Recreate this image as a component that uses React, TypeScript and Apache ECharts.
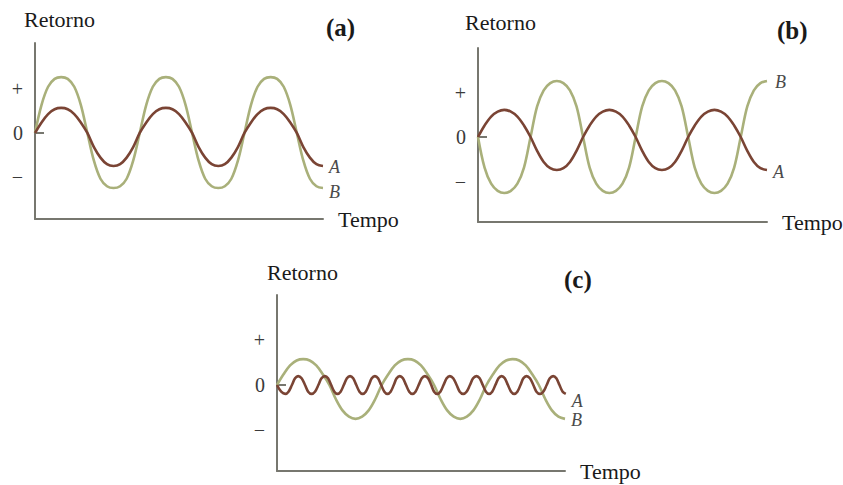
import React, { useEffect, useRef } from "react";
import * as echarts from "echarts";

// Time samples, a sixteenth of a slow cycle apart
const tempo = [
  0, 0.25, 0.5, 0.75, 1, 1.25, 1.5, 1.75, 2, 2.25, 2.5, 2.75, 3, 3.25, 3.5, 3.75,
  4, 4.25, 4.5, 4.75, 5, 5.25, 5.5, 5.75, 6, 6.25, 6.5, 6.75, 7, 7.25, 7.5, 7.75,
  8, 8.25, 8.5, 8.75, 9, 9.25, 9.5, 9.75, 10, 10.25, 10.5, 10.75, 11,
];

// Panel (a): A and B move together, B with larger swings
const retornoA_a = [
  0, 0.24, 0.43, 0.54, 0.57, 0.54, 0.43, 0.24, 0, -0.32, -0.56, -0.71, -0.75, -0.71, -0.56, -0.32,
  0, 0.24, 0.43, 0.54, 0.57, 0.54, 0.43, 0.24, 0, -0.32, -0.56, -0.71, -0.75, -0.71, -0.56, -0.32,
  0, 0.24, 0.43, 0.54, 0.57, 0.54, 0.43, 0.24, 0, -0.32, -0.56, -0.71, -0.75,
];
const retornoB_a = [
  0, 0.64, 1.05, 1.23, 1.27, 1.23, 1.05, 0.64, 0, -0.63, -1.04, -1.21, -1.25, -1.21, -1.04, -0.63,
  0, 0.64, 1.05, 1.23, 1.27, 1.23, 1.05, 0.64, 0, -0.63, -1.04, -1.21, -1.25, -1.21, -1.04, -0.63,
  0, 0.64, 1.05, 1.23, 1.27, 1.23, 1.05, 0.64, 0, -0.63, -1.04, -1.21, -1.25,
];

// Panel (b): A and B move in opposite directions
const retornoA_b = [
  0, 0.26, 0.46, 0.57, 0.61, 0.57, 0.46, 0.26, 0, -0.31, -0.56, -0.7, -0.74, -0.7, -0.56, -0.31,
  0, 0.26, 0.46, 0.57, 0.61, 0.57, 0.46, 0.26, 0, -0.31, -0.56, -0.7, -0.74, -0.7, -0.56, -0.31,
  0, 0.26, 0.46, 0.57, 0.61, 0.57, 0.46, 0.26, 0, -0.31, -0.56, -0.7, -0.74,
];
const retornoB_b = [
  0, -0.69, -1.05, -1.21, -1.26, -1.21, -1.05, -0.69, 0, 0.69, 1.05, 1.21, 1.26, 1.21, 1.05, 0.69,
  0, -0.69, -1.05, -1.21, -1.26, -1.21, -1.05, -0.69, 0, 0.69, 1.05, 1.21, 1.26, 1.21, 1.05, 0.69,
  0, -0.69, -1.05, -1.21, -1.26, -1.21, -1.05, -0.69, 0, 0.69, 1.05, 1.21, 1.26,
];

// Panel (c): B is a slow wave, A a fast small ripple
const retornoB_c = [
  0, 0.24, 0.44, 0.55, 0.58, 0.55, 0.44, 0.24, 0, -0.32, -0.57, -0.71, -0.76, -0.71, -0.57, -0.32,
  0, 0.24, 0.44, 0.55, 0.58, 0.55, 0.44, 0.24, 0, -0.32, -0.57, -0.71, -0.76, -0.71, -0.57, -0.32,
  0, 0.24, 0.44, 0.55, 0.58, 0.55, 0.44, 0.24, 0, -0.32, -0.57, -0.71, -0.76,
];
const tempoA_c = [
  0, 0.16,
  0.32, 0.44, 0.57, 0.69, 0.81, 0.94, 1.07, 1.19,
  1.32, 1.45, 1.58, 1.7, 1.83, 1.95, 2.07, 2.19,
  2.31, 2.43, 2.55, 2.67, 2.79, 2.91, 3.03, 3.15,
  3.27, 3.39, 3.51, 3.62, 3.74, 3.86, 3.98, 4.1,
  4.22, 4.34, 4.46, 4.57, 4.69, 4.81, 4.93, 5.05,
  5.17, 5.29, 5.41, 5.53, 5.65, 5.77, 5.89, 6.0,
  6.12, 6.24, 6.36, 6.48, 6.6, 6.73, 6.86, 6.98,
  7.11, 7.24, 7.37, 7.49, 7.62, 7.74, 7.86, 7.98,
  8.1, 8.22, 8.34, 8.46, 8.58, 8.7, 8.82, 8.94,
  9.06, 9.18, 9.3, 9.41, 9.53, 9.66, 9.79, 9.91,
  10.04, 10.17, 10.3, 10.42, 10.55, 10.67, 10.79, 10.91,
  11.03,
];
const retornoA_c = [
  0, -0.15,
  -0.2, -0.15, 0, 0.15, 0.2, 0.15, 0, -0.15,
  -0.2, -0.15, 0, 0.15, 0.2, 0.15, 0, -0.15,
  -0.2, -0.15, 0, 0.15, 0.2, 0.15, 0, -0.15,
  -0.2, -0.15, 0, 0.15, 0.2, 0.15, 0, -0.15,
  -0.2, -0.15, 0, 0.15, 0.2, 0.15, 0, -0.15,
  -0.2, -0.15, 0, 0.15, 0.2, 0.15, 0, -0.15,
  -0.2, -0.15, 0, 0.15, 0.2, 0.15, 0, -0.15,
  -0.2, -0.15, 0, 0.15, 0.2, 0.15, 0, -0.15,
  -0.2, -0.15, 0, 0.15, 0.2, 0.15, 0, -0.15,
  -0.2, -0.15, 0, 0.15, 0.2, 0.15, 0, -0.15,
  -0.2, -0.15, 0, 0.15, 0.2, 0.15, 0, -0.15,
  -0.2,
];

// Y tick labels
const yTickValues = [-1, 0, 1];
const yTickLabels = ["−", "0", "+"];

const SERIF = "'Liberation Serif', 'Times New Roman', serif";
const AXIS_GRAY = "#77776f";
const GREEN = "#a9b07a";
const BROWN = "#7a4434";

const pairs = (xs: number[], ys: number[]) => xs.map((x, i) => [x, ys[i]]);

export default function App() {
  const ref = useRef<HTMLDivElement>(null);

  useEffect(() => {
    if (!ref.current) return;
    const chart = echarts.init(ref.current, null, { renderer: "svg" });

    const grids = [
      { left: 35, top: 43, width: 288, height: 176, min: -1.955, max: 2.045 },
      { left: 478, top: 48, width: 289, height: 174, min: -1.91, max: 2.0 },
      { left: 277, top: 295, width: 288, height: 176, min: -1.93, max: 2.02 },
    ];

    const xAxes = grids.map((g, i) => ({
      type: "value",
      gridIndex: i,
      min: 0,
      max: 11,
      axisLine: { show: true, onZero: false, lineStyle: { color: AXIS_GRAY, width: 2 } },
      axisTick: { show: false },
      axisLabel: { show: false },
      splitLine: { show: false },
      name: "Tempo",
      nameLocation: "end",
      nameGap: 15,
      nameTextStyle: { fontFamily: SERIF, fontSize: 22, color: "#1a1a1a", verticalAlign: "middle" },
    }));

    const yAxes = grids.map((g, i) => ({
      type: "value",
      gridIndex: i,
      min: g.min,
      max: g.max,
      axisLine: { show: true, onZero: false, lineStyle: { color: AXIS_GRAY, width: 2 } },
      axisTick: {
        show: true,
        inside: true,
        length: 9,
        customValues: [0],
        lineStyle: { color: AXIS_GRAY, width: 2 },
      },
      axisLabel: {
        show: true,
        customValues: yTickValues,
        margin: 12,
        fontFamily: SERIF,
        fontSize: 20,
        color: "#3a3a3a",
        formatter: (v: number) => yTickLabels[yTickValues.indexOf(Math.round(v))] ?? "",
      },
      splitLine: { show: false },
    }));

    const lineSeries = (
      idx: number,
      data: number[][],
      color: string,
      label: string,
      offset: number[],
      distance = 6
    ) => ({
      type: "line",
      xAxisIndex: idx,
      yAxisIndex: idx,
      data,
      smooth: 0.35,
      showSymbol: false,
      clip: false,
      lineStyle: { color, width: 2.6 },
      endLabel: {
        show: true,
        formatter: label,
        fontFamily: SERIF,
        fontStyle: "italic",
        fontSize: 18,
        color: "#4a4a4a",
        distance,
        offset,
      },
      silent: true,
    });

    const titleText = (left: number, top: number, text: string, bold = false, size = 22) => ({
      type: "text",
      left,
      top,
      style: {
        text,
        fontFamily: SERIF,
        fontSize: size,
        fontWeight: bold ? "bold" : "normal",
        fill: "#1a1a1a",
      },
    });

    chart.setOption({
      animation: false,
      backgroundColor: "#ffffff",
      grid: grids.map((g) => ({
        left: g.left,
        top: g.top,
        width: g.width,
        height: g.height,
        outerBoundsMode: "none",
      })),
      xAxis: xAxes,
      yAxis: yAxes,
      series: [
        lineSeries(0, pairs(tempo, retornoB_a), GREEN, "B", [0, 4]),
        lineSeries(0, pairs(tempo, retornoA_a), BROWN, "A", [0, 1]),
        lineSeries(1, pairs(tempo, retornoB_b), GREEN, "B", [0, 1], 8),
        lineSeries(1, pairs(tempo, retornoA_b), BROWN, "A", [0, 2]),
        lineSeries(2, pairs(tempo, retornoB_c), GREEN, "B", [0, 1]),
        lineSeries(2, pairs(tempoA_c, retornoA_c), BROWN, "A", [0, 7]),
      ],
      graphic: [
        titleText(24, 8, "Retorno"),
        titleText(465, 11, "Retorno"),
        titleText(267, 261, "Retorno"),
        titleText(326, 15, "(a)", true, 25),
        titleText(777, 18, "(b)", true, 25),
        titleText(564, 267, "(c)", true, 25),
      ],
    });

    return () => chart.dispose();
  }, []);

  return (
    <div
      ref={ref}
      style={{ position: "fixed", left: 0, top: 0, width: 843, height: 485, background: "#fff" }}
    />
  );
}
